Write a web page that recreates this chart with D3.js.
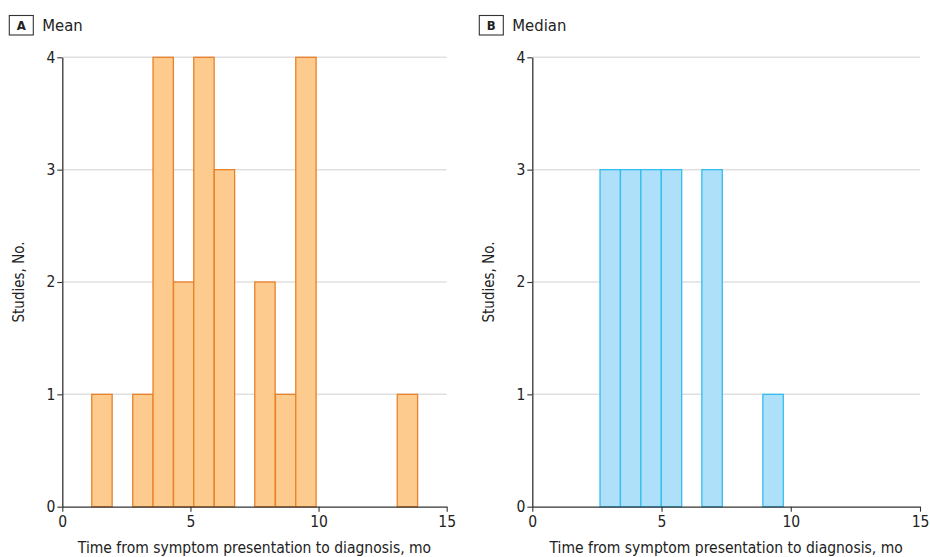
<!DOCTYPE html>
<html>
<head>
<meta charset="utf-8">
<script src="https://d3js.org/d3.v7.min.js"></script>
<style>
  body { margin: 0; background: #fff; }
  text { font-family: "DejaVu Sans Condensed", "Liberation Sans Narrow", sans-serif; fill: #222; }
</style>
</head>
<body>
<script>
// histogram bins (lower edge of each bin, count)
var meanLower = [1.15, 2.75, 3.54, 4.34, 5.13, 5.93, 7.51, 8.32, 9.11, 13.07];
var meanCounts = [1, 1, 4, 2, 4, 3, 2, 1, 4, 1];
var meanBinWidth = 0.795;

var medianLower = [2.62, 3.41, 4.20, 4.99, 6.56, 8.92];
var medianCounts = [3, 3, 3, 3, 3, 1];
var medianBinWidth = 0.79;

var xTicks = [0, 5, 10, 15];
var yTicks = [0, 1, 2, 3, 4];

var panels = [
  {letter: 'A', title: 'Mean', lower: meanLower, counts: meanCounts, bw: meanBinWidth,
   left: 62.3, right: 446.7, fill: '#fdcb8e', stroke: '#e8822a'},
  {letter: 'B', title: 'Median', lower: medianLower, counts: medianCounts, bw: medianBinWidth,
   left: 532.3, right: 920, fill: '#aee0f9', stroke: '#33bdf0'}
];

var W = 930, H = 557, plotTop = 57.3, plotBottom = 506.7;

var svg = d3.select('body').append('svg')
  .attr('width', W)
  .attr('height', H);

panels.forEach(function(p) {
  var x = d3.scaleLinear().domain([0, 15]).range([p.left, p.right]);
  var y = d3.scaleLinear().domain([0, 4]).range([plotBottom, plotTop]);
  var g = svg.append('g');

  //gridlines
  g.selectAll('.grid').data(yTicks.slice(1)).enter().append('line')
    .attr('x1', p.left).attr('x2', p.right)
    .attr('y1', function(d) { return y(d); })
    .attr('y2', function(d) { return y(d); })
    .attr('stroke', '#e0e0e0')
    .attr('stroke-width', 1.5);

  //bars
  var bins = p.lower.map(function(l, i) { return {x0: l, x1: l + p.bw, n: p.counts[i]}; });
  g.selectAll('.bar').data(bins).enter().append('rect')
    .attr('x', function(d) { return x(d.x0); })
    .attr('y', function(d) { return y(d.n); })
    .attr('width', function(d) { return x(d.x1) - x(d.x0); })
    .attr('height', function(d) { return y(0) - y(d.n); })
    .attr('fill', p.fill)
    .attr('stroke', p.stroke)
    .attr('stroke-width', 1.3);

  //axes
  var xAxis = g.append('g')
    .attr('transform', 'translate(0,' + plotBottom + ')')
    .call(d3.axisBottom(x).tickValues(xTicks).tickFormat(d3.format('d')).tickSize(5).tickSizeOuter(0));
  var yAxis = g.append('g')
    .attr('transform', 'translate(' + p.left + ',0)')
    .call(d3.axisLeft(y).tickValues(yTicks).tickFormat(d3.format('d')).tickSize(5).tickSizeOuter(0));
  [xAxis, yAxis].forEach(function(a) {
    a.select('.domain').attr('stroke', '#333').attr('stroke-width', 1.3);
    a.selectAll('.tick line').attr('stroke', '#333').attr('stroke-width', 1.1);
    a.selectAll('.tick text').style('font-size', '15.5px').attr('fill', '#222');
  });
  xAxis.selectAll('.tick text').attr('dy', '0.95em').attr('y', 6);
  yAxis.selectAll('.tick text').attr('x', -7);

  //axis titles
  g.append('text')
    .attr('x', (p.left + p.right) / 2)
    .attr('y', 552.5)
    .attr('text-anchor', 'middle')
    .style('font-size', '15.5px')
    .text('Time from symptom presentation to diagnosis, mo');
  g.append('text')
    .attr('transform', 'translate(' + (p.left - 38) + ',' + ((plotTop + plotBottom) / 2) + ') rotate(-90)')
    .attr('text-anchor', 'middle')
    .style('font-size', '15px')
    .text('Studies, No.');

  //panel label
  var bx = p.left - 53;
  g.append('rect')
    .attr('x', bx).attr('y', 15.5)
    .attr('width', 24).attr('height', 19.5)
    .attr('fill', 'none')
    .attr('stroke', '#333')
    .attr('stroke-width', 1.1);
  g.append('text')
    .attr('x', bx + 12).attr('y', 30)
    .attr('text-anchor', 'middle')
    .style('font-size', '13px')
    .style('font-weight', 'bold')
    .text(p.letter);
  g.append('text')
    .attr('x', bx + 33).attr('y', 30.5)
    .style('font-size', '16.5px')
    .text(p.title);
});
</script>
</body>
</html>
